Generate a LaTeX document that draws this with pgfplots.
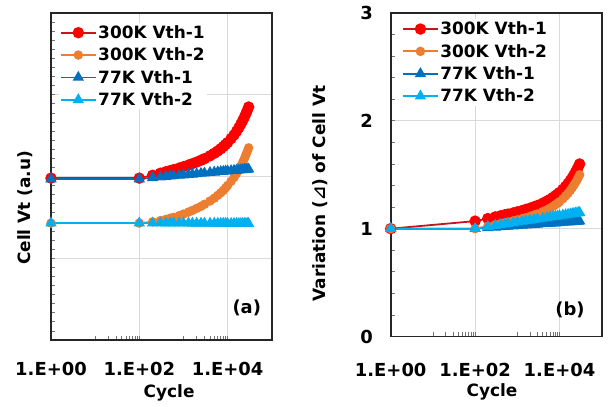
\documentclass[border=0pt]{standalone}
\usepackage{fontspec}
\setmainfont{DejaVu Sans}
\newfontfamily\symfont{DejaVu Sans}
\usepackage{pgfplots}
\usepackage{pgfplotstable}
\pgfplotsset{compat=1.18}
\definecolor{cRedLine}{RGB}{200,20,30}
\definecolor{cRed}{RGB}{255,0,0}
\definecolor{cOrange}{RGB}{237,125,49}
\definecolor{cDBlue}{RGB}{0,112,192}
\definecolor{cLBlue}{RGB}{0,176,240}
\definecolor{cGrid}{RGB}{217,217,217}

% Panel (a): Cell Vt (a.u)
\pgfplotstableread{
N      r1     r2     b1     b2
1      1.98   1.43   1.97   1.43
100    1.98   1.43   1.97   1.43
200    2.015  1.445  1.985  1.43
300    2.040  1.460  1.993  1.43
400    2.058  1.475  1.999  1.43
500    2.072  1.490  2.004  1.43
600    2.084  1.500  2.008  1.43
800    2.103  1.520  2.014  1.429
1000   2.120  1.540  2.018  1.429
1300   2.140  1.565  2.024  1.429
1600   2.157  1.585  2.028  1.428
2000   2.177  1.610  2.033  1.428
2500   2.199  1.635  2.038  1.428
3000   2.218  1.660  2.041  1.427
4000   2.253  1.700  2.048  1.427
5000   2.284  1.735  2.052  1.427
6000   2.312  1.770  2.056  1.426
7000   2.339  1.800  2.059  1.426
8000   2.365  1.830  2.062  1.426
9000   2.391  1.860  2.065  1.426
10000  2.415  1.890  2.067  1.425
12000  2.463  1.941  2.071  1.425
14000  2.508  1.988  2.074  1.425
16000  2.553  2.036  2.077  1.425
18000  2.597  2.082  2.079  1.424
20000  2.640  2.128  2.081  1.424
22000  2.683  2.173  2.083  1.424
24000  2.726  2.218  2.085  1.424
26000  2.767  2.263  2.087  1.424
28000  2.809  2.307  2.088  1.424
30000  2.850  2.350  2.090  1.424
}\tabA

% Panel (b): Variation of Cell Vt
\pgfplotstableread{
N     r1     r2     b1     b2
1     1.0    1.0    1.0    1.0
100   1.070  1.0    1.0    1.0
200   1.094  1.023  1.008  1.018
300   1.109  1.036  1.013  1.029
400   1.119  1.046  1.017  1.036
500   1.128  1.054  1.020  1.042
600   1.135  1.061  1.022  1.047
800   1.146  1.072  1.025  1.054
1000  1.156  1.081  1.028  1.060
1300  1.168  1.093  1.031  1.067
1600  1.179  1.102  1.034  1.072
2000  1.190  1.114  1.036  1.078
2500  1.204  1.126  1.039  1.084
3000  1.215  1.137  1.041  1.089
4000  1.236  1.157  1.045  1.096
5000  1.255  1.175  1.048  1.102
6000  1.272  1.191  1.050  1.107
7000  1.289  1.207  1.052  1.111
8000  1.305  1.222  1.053  1.114
9000  1.320  1.236  1.055  1.117
10000 1.335  1.250  1.056  1.120
12000 1.364  1.277  1.058  1.125
14000 1.392  1.304  1.060  1.129
16000 1.419  1.329  1.062  1.132
18000 1.446  1.355  1.063  1.135
20000 1.472  1.380  1.064  1.138
22000 1.498  1.404  1.066  1.141
24000 1.524  1.428  1.067  1.143
26000 1.550  1.452  1.068  1.145
28000 1.575  1.476  1.069  1.147
30000 1.600  1.500  1.070  1.149
}\tabB

\pgfplotsset{
  mystyle/.style={
    xmin=1, xmax=100000,
    xtick={1,100,10000}, xticklabels={1.E+00,1.E+02,1.E+04},
    minor xtick={10,20,30,40,50,60,70,80,90,1000,2000,3000,4000,5000,6000,7000,8000,9000},
    xmajorgrids, ymajorgrids,
    grid style={cGrid, line width=0.9bp},
    tick align=inside, xtick pos=bottom, ytick pos=left,
    major tick length=4bp, minor tick length=4bp,
    tick style={black!55, line width=0.8bp},
    axis line style={black!85, line width=1.6bp},
    /pgf/number format/assume math mode=true,
    ticklabel style={font=\fontsize{18}{21}\selectfont\bfseries},
    label style={font=\fontsize{17}{20}\selectfont\bfseries},
    clip=false,
    legend cell align=left,
    legend style={draw=none, fill=white, font=\fontsize{17}{20}\selectfont\bfseries,
      anchor=north west, inner sep=1bp, row sep=5bp, nodes={inner sep=1.5bp}},
    legend image code/.code={\draw[mark repeat=2,mark phase=2,##1] plot coordinates {(0bp,0bp) (17.5bp,0bp) (35bp,0bp)};},
  },
  sRed/.style={cRedLine, line width=1.8bp, mark=*, mark size=4.8bp, mark options={draw=cRed, fill=cRed, solid}},
  sOrange/.style={cOrange, line width=1.8bp, mark=*, mark size=3.8bp, mark options={draw=cOrange, fill=cOrange, solid}},
  sDBlue/.style={cDBlue, line width=1.8bp, mark=triangle*, mark size=4.8bp, mark options={draw=cDBlue, fill=cDBlue, solid}},
  sLBlue/.style={cLBlue, line width=1.8bp, mark=triangle*, mark size=4.8bp, mark options={draw=cLBlue, fill=cLBlue, solid}},
}

\begin{document}
\begin{tikzpicture}
\useasboundingbox (0,0) rectangle (608bp,407bp);
% ---------------- panel (a)
\begin{axis}[xmode=log, log basis x=10, scale only axis, mystyle,
  at={(51bp,67bp)}, anchor=south west, width=220.7bp, height=327bp,
  ymin=0, ymax=4, ytick={0,1,2,3,4}, yticklabels={}, minor y tick num=8,
  xticklabel style={anchor=center, yshift=-29bp},
  xlabel={Cycle}, ylabel={Cell Vt (a.u)},
  xlabel style={at={(axis description cs:0.535,-0.162)}, anchor=center},
  ylabel style={at={(axis description cs:-0.118,0.404)}, anchor=center},
  legend style={at={(axis description cs:0.035,0.97)}},
]
\addplot[sRed] table[x=N,y=r1]{\tabA};
\addlegendentry{300K Vth-1}
\addplot[sOrange] table[x=N,y=r2]{\tabA};
\addlegendentry{300K Vth-2}
\addplot[sDBlue] table[x=N,y=b1]{\tabA};
\addlegendentry{77K Vth-1}
\addplot[sLBlue] table[x=N,y=b2]{\tabA};
\addlegendentry{77K Vth-2}
\node[font=\fontsize{18}{21}\selectfont\bfseries] at (rel axis cs:0.887,0.098) {(a)};
\end{axis}
% ---------------- panel (b)
\begin{axis}[xmode=log, log basis x=10, scale only axis, mystyle,
  at={(390.7bp,70.5bp)}, anchor=south west, width=211bp, height=323.5bp,
  ymin=0, ymax=3, ytick={0,1,2,3}, yticklabels={0,1,2,3}, minor y tick num=4,
  xticklabel style={anchor=center, yshift=-33bp},
  yticklabel style={anchor=center, xshift=-24bp},
  xlabel={Cycle}, ylabel={Variation ({\symfont ⊿}) of Cell Vt},
  xlabel style={at={(axis description cs:0.48,-0.172)}, anchor=center},
  ylabel style={at={(axis description cs:-0.335,0.442)}, anchor=center},
  legend style={at={(axis description cs:0.048,0.981)}},
]
\addplot[sRed] table[x=N,y=r1]{\tabB};
\addlegendentry{300K Vth-1}
\addplot[sOrange] table[x=N,y=r2]{\tabB};
\addlegendentry{300K Vth-2}
\addplot[sDBlue] table[x=N,y=b1]{\tabB};
\addlegendentry{77K Vth-1}
\addplot[sLBlue] table[x=N,y=b2]{\tabB};
\addlegendentry{77K Vth-2}
\node[font=\fontsize{18}{21}\selectfont\bfseries] at (rel axis cs:0.85,0.082) {(b)};
\end{axis}
\end{tikzpicture}
\end{document}
